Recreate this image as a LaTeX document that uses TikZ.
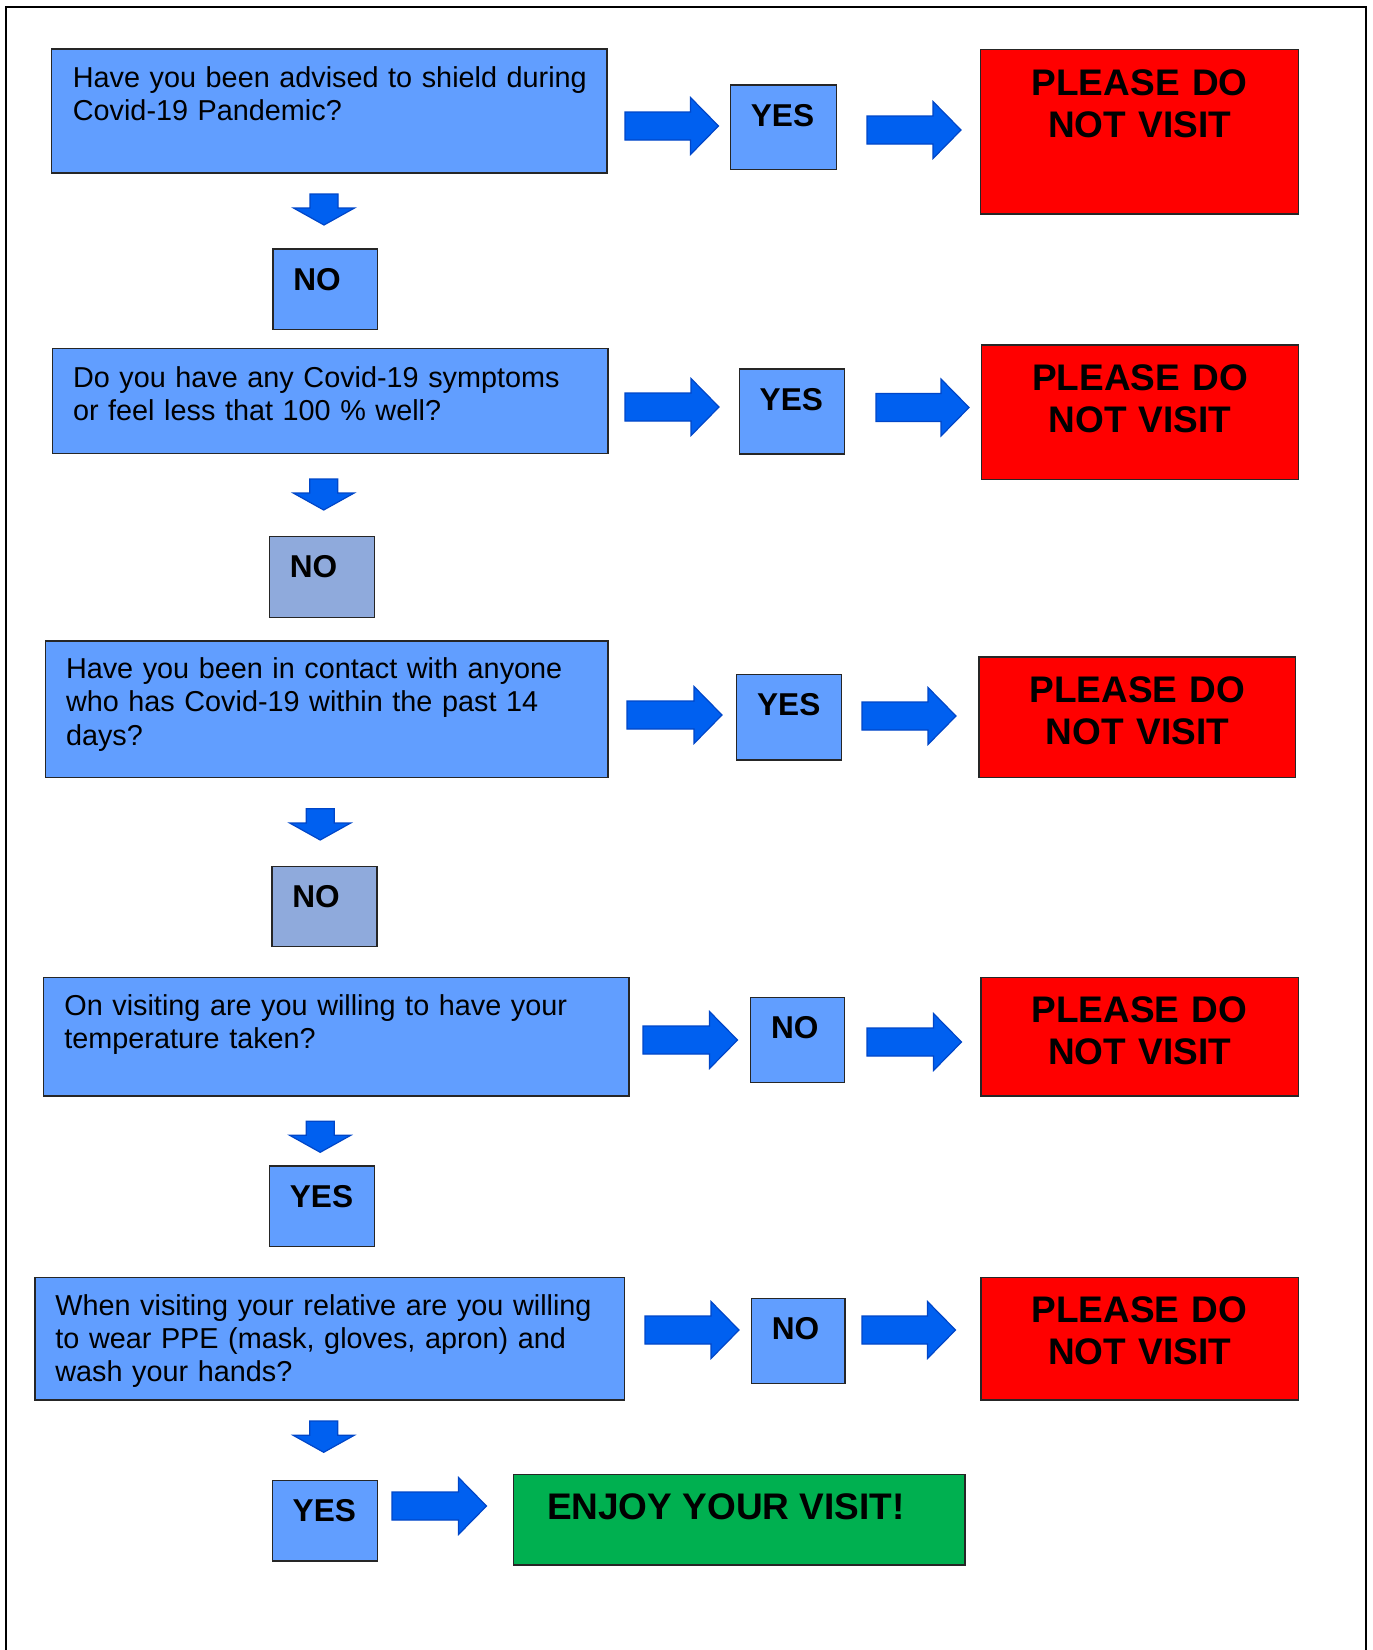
\documentclass[tikz,border=0pt]{standalone}
\usepackage{fontspec}
\setmainfont{Liberation Sans}
\usetikzlibrary{fit}
\definecolor{qblue}{RGB}{97,158,255}
\definecolor{nblue}{RGB}{143,170,220}
\definecolor{stopred}{RGB}{255,0,0}
\definecolor{okgreen}{RGB}{0,176,80}
\definecolor{arrowblue}{RGB}{0,96,240}
\definecolor{arrowedge}{RGB}{0,70,200}
\newcommand{\rarr}[3]{\draw[barrow] (#1,#3-14) -- (#2-28,#3-14) -- (#2-28,#3-28.5) -- (#2,#3) -- (#2-28,#3+28.5) -- (#2-28,#3+14) -- (#1,#3+14) -- cycle;}
\newcommand{\darr}[3]{\draw[barrow] (#1-14,#2) -- (#1+14,#2) -- (#1+14,#3-17) -- (#1+30.5,#3-17) -- (#1,#3) -- (#1-30.5,#3-17) -- (#1-14,#3-17) -- cycle;}
\tikzset{
  boxbase/.style={draw=black!85, line width=0.75pt, inner sep=0pt},
  qbox/.style={boxbase, fill=qblue},
  gbox/.style={boxbase, fill=nblue},
  rbox/.style={boxbase, fill=stopred},
  okbox/.style={boxbase, fill=okgreen},
  barrow/.style={fill=arrowblue, draw=arrowedge, line width=0.6pt, line join=miter},
  qtext/.style={anchor=base west, inner sep=0pt, text width=320pt, align=left,
    font=\fontsize{14.4pt}{16.7pt}\selectfont},
  lbl/.style={anchor=base west, inner sep=0pt, font=\fontsize{15.8pt}{18pt}\selectfont\bfseries},
  stoptext/.style={anchor=base, inner sep=0pt, text width=150pt, align=center,
    font=\fontsize{18.5pt}{21.1pt}\selectfont\bfseries},
  oktext/.style={anchor=base west, inner sep=0pt, font=\fontsize{18.5pt}{21.1pt}\selectfont\bfseries}
}
\begin{document}
\begin{tikzpicture}[x=0.5pt,y=-0.5pt]
\useasboundingbox (0,0) rectangle (1372,1650);
\draw[line width=1pt] (5.5,1652) -- (5.5,7) -- (1366,7) -- (1366,1652);

% Row 1
\node[qbox, fit={(51.5,49) (607,173)}] (q1) {};
\node[qtext] (q1t) at (72.5,87) {Have you been advised to shield during\\Covid-19 Pandemic?};
\node[qbox, fit={(730.5,85) (836.3,169.3)}] (y1) {};
\node[lbl] (y1t) at (750.5,126) {YES};
\node[rbox, fit={(980.6,49.3) (1298.7,214)}] (r1) {};
\node[stoptext] (r1t) at (1139.6,95) {PLEASE DO\\NOT VISIT};
\rarr{625}{718.5}{126}
\rarr{867}{961}{130}
\darr{324}{194}{225}
\node[qbox, fit={(272.8,249) (377.7,329.3)}] (n1) {};
\node[lbl] (n1t) at (293,290) {NO};

% Row 2
\node[qbox, fit={(52.5,348.3) (608,453.3)}] (q2) {};
\node[qtext] (q2t) at (72.6,387) {Do you have any Covid-19 symptoms\\or feel less that 100 \% well?};
\node[qbox, fit={(739.3,369) (844.3,454)}] (y2) {};
\node[lbl] (y2t) at (759.3,410) {YES};
\node[rbox, fit={(981.6,345) (1298.3,479.3)}] (r2) {};
\node[stoptext] (r2t) at (1140,390.3) {PLEASE DO\\NOT VISIT};
\rarr{625}{719}{407}
\rarr{876}{969}{407.5}
\darr{323.7}{479}{510}
\node[gbox, fit={(269.5,536.7) (374.5,617.3)}] (n2) {};
\node[lbl] (n2t) at (289.5,577.7) {NO};

% Row 3
\node[qbox, fit={(45.5,641) (608,777.3)}] (q3) {};
\node[qtext] (q3t) at (65.6,678.5) {Have you been in contact with anyone\\who has Covid-19 within the past 14\\days?};
\node[qbox, fit={(736.7,674.7) (841.7,760)}] (y3) {};
\node[lbl] (y3t) at (756.7,715.7) {YES};
\node[rbox, fit={(979,657) (1295.7,777.3)}] (r3) {};
\node[stoptext] (r3t) at (1137.4,702.3) {PLEASE DO\\NOT VISIT};
\rarr{627}{722}{715}
\rarr{862}{956}{716}
\darr{320.2}{808.7}{840}
\node[gbox, fit={(272,866.3) (377,946.7)}] (n3) {};
\node[lbl] (n3t) at (292,907) {NO};

% Row 4
\node[qbox, fit={(43.7,977.3) (629,1096)}] (q4) {};
\node[qtext] (q4t) at (64,1015) {On visiting are you willing to have your\\temperature taken?};
\node[qbox, fit={(750.7,997.3) (844.3,1082.3)}] (n4) {};
\node[lbl] (n4t) at (770.7,1038) {NO};
\node[rbox, fit={(980.8,977.3) (1298.3,1096)}] (r4) {};
\node[stoptext] (r4t) at (1139.5,1022.3) {PLEASE DO\\NOT VISIT};
\rarr{643}{737.5}{1040}
\rarr{867}{961.5}{1042}
\darr{320.2}{1121.3}{1152.3}
\node[qbox, fit={(269.5,1166) (374.5,1246.7)}] (y4) {};
\node[lbl] (y4t) at (289.5,1207) {YES};

% Row 5
\node[qbox, fit={(35,1277.3) (624.7,1400)}] (q5) {};
\node[qtext] (q5t) at (55,1315) {When visiting your relative are you willing\\to wear PPE (mask, gloves, apron) and\\wash your hands?};
\node[qbox, fit={(751.5,1298.3) (845.2,1383.3)}] (n5) {};
\node[lbl] (n5t) at (771.5,1339) {NO};
\node[rbox, fit={(980.8,1277.3) (1298.3,1400)}] (r5) {};
\node[stoptext] (r5t) at (1139.5,1322.3) {PLEASE DO\\NOT VISIT};
\rarr{645}{739}{1330}
\rarr{862}{955.5}{1330}
\darr{323.7}{1421}{1452.3}
\node[qbox, fit={(272.3,1480.3) (377.6,1561)}] (y5) {};
\node[lbl] (y5t) at (292.3,1521) {YES};

% Final
\rarr{392}{486.5}{1506}
\node[okbox, fit={(513.4,1474.3) (964.9,1565)}] (ok) {};
\node[oktext] (okt) at (546.6,1519.3) {ENJOY YOUR VISIT!};
\end{tikzpicture}
\end{document}
